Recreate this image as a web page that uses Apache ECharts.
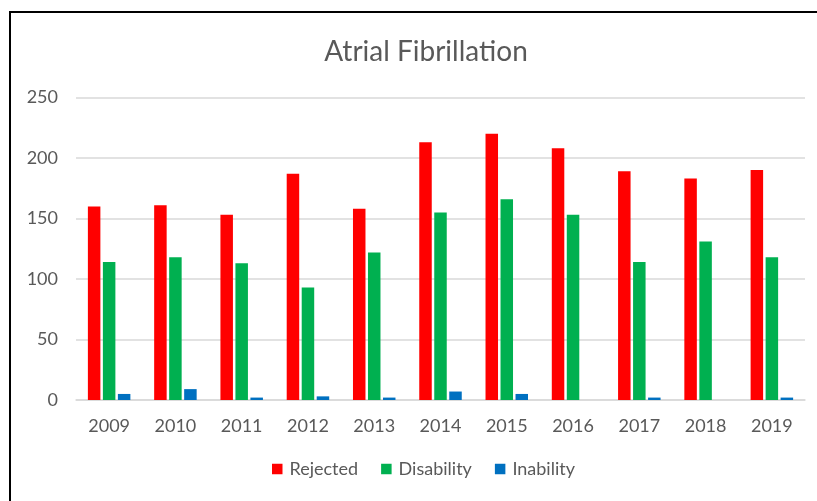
<!DOCTYPE html>
<html>
<head>
<meta charset="utf-8">
<script src="https://cdn.jsdelivr.net/npm/echarts@6/dist/echarts.min.js"></script>
<style>
  html, body { margin: 0; padding: 0; background: #fff; }
  #chart { width: 817px; height: 501px; }
</style>
</head>
<body>
<div id="chart"></div>
<script>
// data
var years = ["2009", "2010", "2011", "2012", "2013", "2014", "2015", "2016", "2017", "2018", "2019"];
var rejected = [160, 161, 153, 187, 158, 213, 220, 208, 189, 183, 190];
var disability = [114, 118, 113, 93, 122, 155, 166, 153, 114, 131, 118];
var inability = [5, 9, 2, 3, 2, 7, 5, 0, 2, 0, 2];

var textColor = "#595959";
var font = "Lato";

var chart = echarts.init(document.getElementById("chart"));

function barSeries(name, data, color) {
  return {
    name: name,
    type: "bar",
    data: data,
    barWidth: 12.5,
    barGap: "20%",
    itemStyle: { color: color },
  };
}

chart.setOption({
  animation: false,
  // outer frame of the chart (cropped on the right and bottom)
  graphic: [
    {
      type: "polyline",
      shape: { points: [[10, 501], [10, 12], [817, 12]] },
      style: { stroke: "#000", lineWidth: 2, fill: null },
    },
  ],
  title: {
    text: "Atrial Fibrillation",
    left: 421,
    textAlign: "center",
    top: 33,
    textStyle: {
      color: textColor,
      fontFamily: font,
      fontSize: 28,
      fontWeight: "normal",
    },
  },
  legend: {
    top: 460,
    left: 272,
    padding: 0,
    icon: "rect",
    itemWidth: 10.5,
    itemHeight: 10.5,
    itemGap: 23,
    textStyle: { color: textColor, fontFamily: font, fontSize: 18, padding: [0, 0, 0, 2] },
  },
  grid: {
    left: 76,
    right: 12,
    top: 97.5,
    bottom: 101,
    containLabel: false,
  },
  xAxis: {
    type: "category",
    data: years,
    axisLine: { lineStyle: { color: "#d9d9d9", width: 1.5 } },
    axisTick: { show: false },
    axisLabel: { color: textColor, fontFamily: font, fontSize: 18, margin: 17 },
  },
  yAxis: {
    type: "value",
    min: 0,
    max: 250,
    interval: 50,
    axisLine: { show: false },
    axisTick: { show: false },
    splitLine: { lineStyle: { color: "#d9d9d9", width: 1.5 } },
    axisLabel: { color: textColor, fontFamily: font, fontSize: 18, margin: 18 },
  },
  series: [
    barSeries("Rejected", rejected, "#ff0000"),
    barSeries("Disability", disability, "#00b050"),
    barSeries("Inability", inability, "#0070c0"),
  ],
});
</script>
</body>
</html>
